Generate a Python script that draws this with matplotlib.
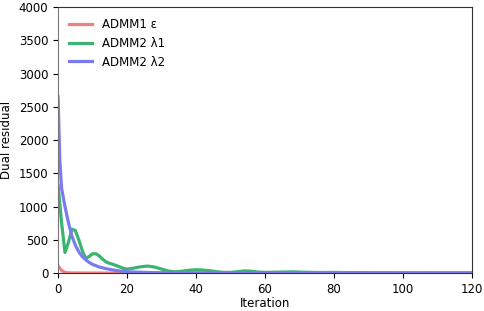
import matplotlib.pyplot as plt

# iterations and residuals
it_eps = [0, 1, 2, 3, 4, 6, 10, 20, 40, 60, 80, 100, 120]
res_eps = [110, 40, 10, 4, 2, 1, 0, 0, 0, 0, 0, 0, 0]

it_l1 = [0, 1, 2, 3, 4, 5, 6, 7, 8, 9, 10, 11, 12, 13, 14, 15, 16, 17, 18, 19, 20,
         22, 24, 26, 28, 30, 32, 34, 36, 38, 40, 42, 44, 46, 48, 50, 52, 54, 56,
         58, 60, 64, 68, 72, 76, 80, 85, 90, 100, 110, 120]
res_l1 = [1320, 760, 310, 460, 660, 640, 500, 340, 220, 250, 290, 290, 255, 205,
          165, 145, 130, 110, 90, 70, 60, 75, 95, 105, 90, 60, 30, 18, 28, 42, 50,
          45, 35, 20, 10, 10, 20, 32, 28, 15, 10, 14, 18, 12, 8, 10, 6, 5, 3, 2, 1]

it_l2 = [0, 0.5, 1, 2, 3, 4, 5, 6, 7, 8, 9, 10, 12, 14, 16, 18, 20, 25, 30, 40,
         60, 80, 100, 120]
res_l2 = [2650, 1700, 1280, 1000, 760, 560, 420, 320, 250, 200, 160, 130, 90, 65,
          45, 30, 20, 10, 5, 2, 1, 0, 0, 0]

plt.rcParams['font.size'] = 8.5

fig, ax = plt.subplots(figsize=(4.84, 3.11), dpi=100)
ax.plot(it_eps, res_eps, color='#f08080', lw=2.3, label='ADMM1 ε')
ax.plot(it_l1, res_l1, color='#3cb371', lw=2.3, label='ADMM2 λ1')
ax.plot(it_l2, res_l2, color='#7b7bf0', lw=2.3, label='ADMM2 λ2')

ax.set_xlim(0, 120)
ax.set_ylim(0, 4000)
ax.set_xticks([0, 20, 40, 60, 80, 100, 120])
ax.set_yticks(range(0, 4001, 500))
ax.set_xlabel('Iteration', labelpad=1)
ax.set_ylabel('Dual residual')
for s in ax.spines.values():
    s.set_color('#333333')
ax.spines['left'].set_color('#777777')
ax.legend(loc='upper left', frameon=False, fontsize=8.5)

plt.subplots_adjust(left=0.12, right=0.975, top=0.977, bottom=0.122)
plt.savefig('out.png')
